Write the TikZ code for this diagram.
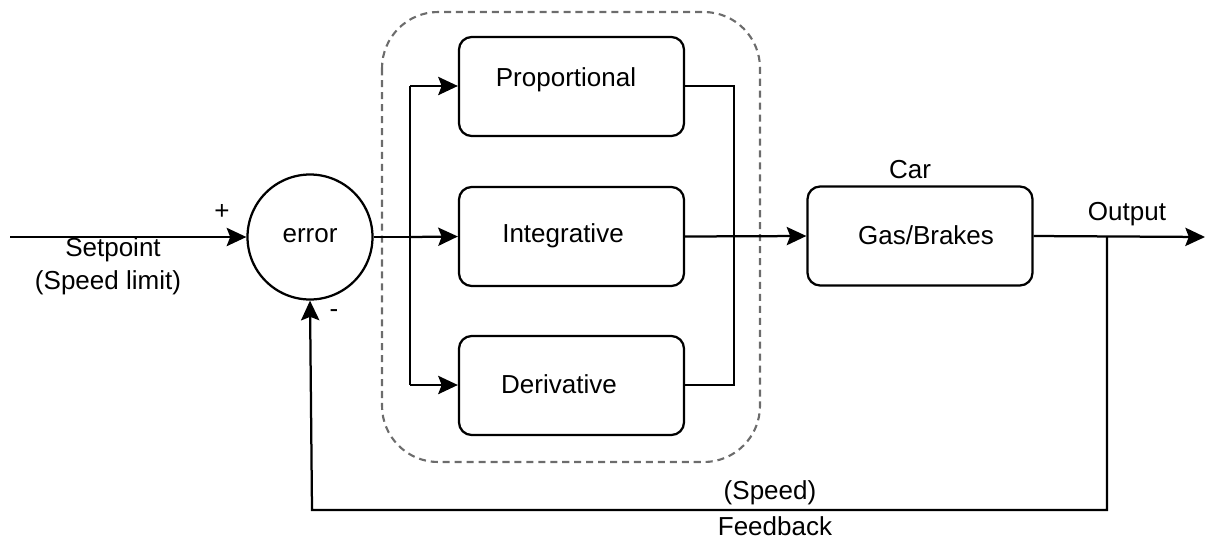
\documentclass[tikz,border=0pt]{standalone}
\usepackage{fontspec}
\setmainfont{Liberation Sans}
\usetikzlibrary{arrows.meta}
\begin{document}
\begin{tikzpicture}[x=0.025cm,y=-0.025cm,
  line width=1.6pt,
  arr/.style={-{Stealth[length=14pt,width=13pt,inset=2.5pt]}},
  blk/.style={draw,rounded corners=9pt,minimum width=225*0.025cm,minimum height=99*0.025cm,inner sep=0pt},
  lbl/.style={font=\fontsize{18.5}{22}\selectfont,inner sep=0pt}]
\useasboundingbox (0,0) rectangle (1208,540);
% dashed controller region
\draw[gray!85!black,dash pattern=on 5pt off 3.5pt,rounded corners=40pt,line width=1.5pt] (382,12) rectangle (760,462);
% summing junction
\node[draw,circle,minimum size=125*0.025cm,inner sep=0pt] (err) at (310,237) {};
\node[lbl] (errt) at (310,236) {error};
% blocks
\node[blk] (P) at (571.5,86.5) {};
\node[blk] (I) at (571.5,236.5) {};
\node[blk] (D) at (571.5,385.5) {};
\node[blk] (car) at (920,236) {};
\node[lbl] (Pt) at (566,80) {Proportional};
\node[lbl] (It) at (563,236) {Integrative};
\node[lbl] (Dt) at (559,384) {Derivative};
\node[lbl] (cart) at (926,235) {Gas/Brakes};
\node[lbl] (carl) at (910,170) {Car};
% coordinates
\coordinate (in) at (10,237);
\coordinate (bl) at (410,237);
\coordinate (blt) at (410,86);
\coordinate (blb) at (410,385);
\coordinate (brt) at (734,86);
\coordinate (brb) at (734,385);
\coordinate (out) at (1205,237);
\coordinate (fb) at (1107,237);
\coordinate (fbr) at (1107,510);
\coordinate (fbl) at (312,510);
% input
\draw[arr] (in) -- (err.west);
\node[lbl] (plus) at (222,212) {+};
\node[lbl] (minus) at (334,314) {-};
\node[lbl] (sp1) at (113,250) {Setpoint};
\node[lbl] (sp2) at (108,283) {(Speed limit)};
% distribution
\draw (err.east) -- (bl);
\draw (blt) -- (blb);
\draw[arr] (blt) -- (P.west|-blt);
\draw[arr] (bl) -- (I.west);
\draw[arr] (blb) -- (D.west|-blb);
% summation bus
\draw (P.east|-brt) -- (brt) -- (brb) -- (D.east|-brb);
\draw[arr] (I.east) -- (car.west);
% output
\draw[arr] (car.east) -- (out);
\node[lbl] (outl) at (1127,214) {Output};
% feedback
\draw[arr] (fb) -- (fbr) -- (fbl) -- (err.south);
\node[lbl] (fb1) at (770,493) {(Speed)};
\node[lbl] (fb2) at (775,526) {Feedback};
\end{tikzpicture}
\end{document}
